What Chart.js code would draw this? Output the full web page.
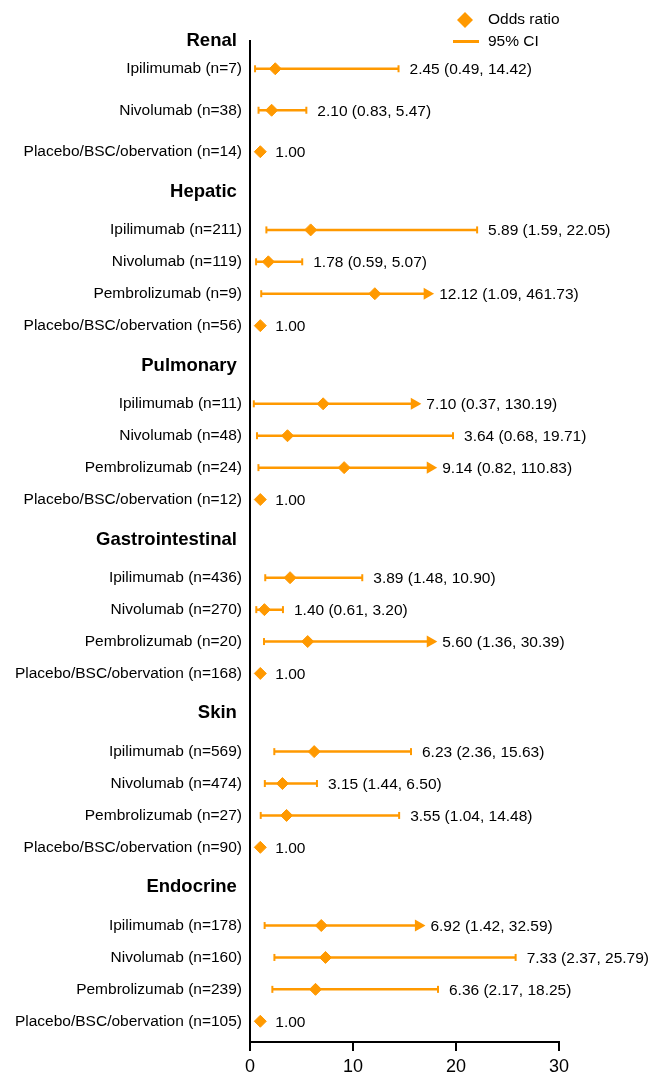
<!DOCTYPE html>
<html>
<head>
<meta charset="utf-8">
<script src="https://cdn.jsdelivr.net/npm/chart.js@4.4.0/dist/chart.umd.min.js"></script>
<style>
  html, body { margin: 0; padding: 0; background: #fff; }
  #wrap { width: 656px; height: 1073px; position: relative; }
</style>
</head>
<body>
<div id="wrap"><canvas id="chart"></canvas></div>
<script>
const ORANGE = '#FF9900';
const FONT = '"Liberation Sans", Arial, Helvetica, sans-serif';

// organ groups (bold headers) and the rows under them
const organs = ['Renal', 'Hepatic', 'Pulmonary', 'Gastrointestinal', 'Skin', 'Endocrine'];
const rowOrgan = [0, 0, 0, 1, 1, 1, 1, 2, 2, 2, 2, 3, 3, 3, 3, 4, 4, 4, 4, 5, 5, 5, 5];
const rowLabels = [
  'Ipilimumab (n=7)', 'Nivolumab (n=38)', 'Placebo/BSC/obervation (n=14)',
  'Ipilimumab (n=211)', 'Nivolumab (n=119)', 'Pembrolizumab (n=9)', 'Placebo/BSC/obervation (n=56)',
  'Ipilimumab (n=11)', 'Nivolumab (n=48)', 'Pembrolizumab (n=24)', 'Placebo/BSC/obervation (n=12)',
  'Ipilimumab (n=436)', 'Nivolumab (n=270)', 'Pembrolizumab (n=20)', 'Placebo/BSC/obervation (n=168)',
  'Ipilimumab (n=569)', 'Nivolumab (n=474)', 'Pembrolizumab (n=27)', 'Placebo/BSC/obervation (n=90)',
  'Ipilimumab (n=178)', 'Nivolumab (n=160)', 'Pembrolizumab (n=239)', 'Placebo/BSC/obervation (n=105)'
];
const oddsRatio = [
  2.45, 2.10, 1.00,
  5.89, 1.78, 12.12, 1.00,
  7.10, 3.64, 9.14, 1.00,
  3.89, 1.40, 5.60, 1.00,
  6.23, 3.15, 3.55, 1.00,
  6.92, 7.33, 6.36, 1.00
];
const ciLower = [
  0.49, 0.83, null,
  1.59, 0.59, 1.09, null,
  0.37, 0.68, 0.82, null,
  1.48, 0.61, 1.36, null,
  2.36, 1.44, 1.04, null,
  1.42, 2.37, 2.17, null
];
const ciUpper = [
  14.42, 5.47, null,
  22.05, 5.07, 461.73, null,
  130.19, 19.71, 110.83, null,
  10.90, 3.20, 30.39, null,
  15.63, 6.50, 14.48, null,
  32.59, 25.79, 18.25, null
];
// upper limits that run off the plot end in an arrow drawn at this value
const ciArrowAt = [
  null, null, null,
  null, null, 17.2, null,
  15.95, null, 17.5, null,
  null, null, 17.5, null,
  null, null, null, null,
  16.35, null, null, null
];

// row layout: headers and drug rows on one linear y scale
const HEADER_GAP = 1.2;
const GROUP_GAP = 1.25;
const rows = [];
const rowPos = [];
let pos = 0;
organs.forEach((name, g) => {
  if (g > 0) pos += GROUP_GAP;
  rows.push({ label: name + ' ', header: true, pos });
  const idx = [];
  rowOrgan.forEach((o, i) => { if (o === g) idx.push(i); });
  const short = idx.length < 4;
  pos += short ? 0.87 : HEADER_GAP;
  idx.forEach((i, k) => {
    if (k > 0) pos += short ? 1.3 : 1;
    rowPos[i] = pos;
    rows.push({ label: rowLabels[i], header: false, pos });
  });
});
const yMax = pos + 0.65;

// CI segments, broken by null points
const ciData = [];
oddsRatio.forEach((or, i) => {
  if (ciLower[i] == null) return;
  const y = rowPos[i];
  ciData.push({ x: ciLower[i], y, end: 'cap' });
  if (ciArrowAt[i] != null) ciData.push({ x: ciArrowAt[i], y, end: 'arrow' });
  else ciData.push({ x: ciUpper[i], y, end: 'cap' });
  ciData.push({ x: null, y: null });
});
const orData = oddsRatio.map((v, i) => ({ x: v, y: rowPos[i] }));

const isArrow = c => c.raw && c.raw.end === 'arrow';

const valueLabels = {
  id: 'valueLabels',
  afterDatasetsDraw(chart) {
    const { ctx, scales: { x, y } } = chart;
    ctx.save();
    ctx.font = '15.5px ' + FONT;
    ctx.fillStyle = '#000';
    ctx.textBaseline = 'middle';
    ctx.textAlign = 'left';
    oddsRatio.forEach((or, i) => {
      let px, txt;
      if (ciLower[i] == null) {
        px = x.getPixelForValue(or) + 15;
        txt = or.toFixed(2);
      } else {
        if (ciArrowAt[i] != null) px = x.getPixelForValue(ciArrowAt[i]) + 12;
        else px = x.getPixelForValue(ciUpper[i]) + 11;
        txt = `${or.toFixed(2)} (${ciLower[i].toFixed(2)}, ${ciUpper[i].toFixed(2)})`;
      }
      ctx.fillText(txt, px, y.getPixelForValue(rowPos[i]) + 1);
    });
    ctx.restore();
  }
};

const cornerLegend = {
  id: 'cornerLegend',
  afterDraw(chart) {
    const { ctx, chartArea } = chart;
    const x0 = chartArea.right - 94;
    ctx.save();
    ctx.fillStyle = ORANGE;
    ctx.beginPath();
    ctx.moveTo(x0, 12); ctx.lineTo(x0 + 8, 20); ctx.lineTo(x0, 28); ctx.lineTo(x0 - 8, 20);
    ctx.closePath();
    ctx.fill();
    ctx.strokeStyle = ORANGE;
    ctx.lineWidth = 3;
    ctx.beginPath();
    ctx.moveTo(x0 - 12, 41.5); ctx.lineTo(x0 + 14, 41.5);
    ctx.stroke();
    ctx.fillStyle = '#000';
    ctx.font = '15.5px ' + FONT;
    ctx.textBaseline = 'middle';
    ctx.fillText('Odds ratio', x0 + 23, 20);
    ctx.fillText('95% CI', x0 + 23, 42);
    ctx.restore();
  }
};

new Chart(document.getElementById('chart'), {
  type: 'scatter',
  data: {
    datasets: [
      {
        label: '95% CI',
        data: ciData,
        showLine: true,
        spanGaps: false,
        borderColor: ORANGE,
        backgroundColor: ORANGE,
        borderWidth: 2.5,
        pointStyle: c => isArrow(c) ? 'triangle' : 'line',
        pointRotation: 90,
        pointRadius: c => isArrow(c) ? 5 : 3.5,
        pointHoverRadius: c => isArrow(c) ? 5 : 3.5,
        pointBorderWidth: 2,
        pointBorderColor: ORANGE,
        pointBackgroundColor: ORANGE,
        order: 1,
      },
      {
        label: 'Odds ratio',
        data: orData,
        pointStyle: 'rectRot',
        pointRadius: 6,
        pointHoverRadius: 6,
        pointBorderWidth: 1,
        borderColor: ORANGE,
        backgroundColor: ORANGE,
        order: 0,
      }
    ]
  },
  options: {
    responsive: true,
    maintainAspectRatio: false,
    animation: false,
    events: [],
    layout: { padding: { top: 41, right: 97, left: 0, bottom: 0 } },
    plugins: {
      legend: { display: false },
      tooltip: { enabled: false },
    },
    scales: {
      x: {
        type: 'linear',
        position: 'bottom',
        min: 0,
        max: 30,
        afterFit: s => { s.height = 31; },
        grid: { display: true, drawOnChartArea: false, drawTicks: true, tickLength: 9, color: '#000', lineWidth: 2 },
        border: { display: true, color: '#000', width: 2 },
        ticks: { stepSize: 10, color: '#000', padding: 5, maxRotation: 0, font: { family: FONT, size: 18 } },
      },
      y: {
        type: 'linear',
        reverse: true,
        min: 0,
        max: yMax,
        afterBuildTicks: s => { s.ticks = rows.map(r => ({ value: r.pos })); },
        afterFit: s => { s.width = 250; },
        grid: { display: false, drawTicks: false },
        border: { display: true, color: '#000', width: 2 },
        ticks: {
          autoSkip: false,
          padding: 8,
          color: '#000',
          callback: (v, i) => rows[i] ? rows[i].label : '',
          font: c => (rows[c.index] && rows[c.index].header)
            ? { family: FONT, size: 18.5, weight: 'bold' }
            : { family: FONT, size: 15.5 },
        },
      },
    },
  },
  plugins: [valueLabels, cornerLegend],
});
</script>
</body>
</html>
